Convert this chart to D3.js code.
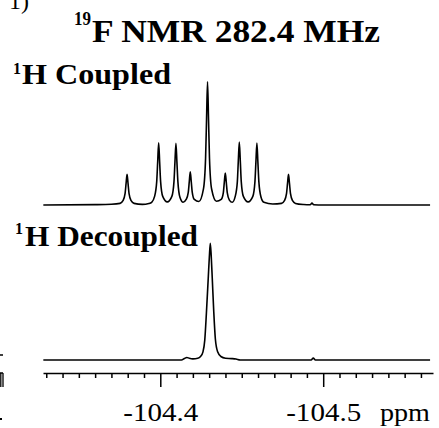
<!DOCTYPE html>
<html>
<head>
<meta charset="utf-8">
<script src="https://cdn.jsdelivr.net/npm/d3@7"></script>
<style>
  html, body { margin: 0; padding: 0; background: #fff; }
  svg { display: block; }
  text { font-family: "Liberation Serif", "Times New Roman", Times, serif; fill: #000; }
</style>
</head>
<body>
<script>
// ---- Data ----
const titleText = "F NMR 282.4 MHz";
const titleSup = "19";
const panelLabels = ["H Coupled", "H Decoupled"];
const panelSup = "1";
const unitLabel = "ppm";
const majorTicks = [-104.4, -104.5];
const majorTickLabels = ["-104.4", "-104.5"];
const minorTicks = [-104.33, -104.34, -104.35, -104.36, -104.37, -104.38, -104.39,
  -104.41, -104.42, -104.43, -104.44, -104.45, -104.46, -104.47, -104.48, -104.49,
  -104.51, -104.52, -104.53, -104.54, -104.55, -104.56];

// 1H-coupled spectrum: chemical shift (ppm) and intensity (tallest line = 100)
const coupledPpm = [
  -104.3282, -104.3600, -104.3700,
  -104.3753, -104.3771, -104.3784, -104.3790, -104.3796, -104.3802, -104.3808, -104.3821, -104.3839,
  -104.3890, -104.3930,
  -104.3947, -104.3965, -104.3978, -104.3984, -104.3990, -104.3996, -104.4002, -104.4015,
  -104.4043,
  -104.4071, -104.4084, -104.4090, -104.4096, -104.4102, -104.4108, -104.4121,
  -104.4140,
  -104.4159, -104.4172, -104.4178, -104.4184, -104.4190, -104.4196, -104.4209,
  -104.4237,
  -104.4265, -104.4278, -104.4284, -104.4290, -104.4296, -104.4302, -104.4315,
  -104.4345,
  -104.4374, -104.4387, -104.4393, -104.4399, -104.4405, -104.4411, -104.4424,
  -104.4442,
  -104.4460, -104.4473, -104.4479, -104.4485, -104.4491, -104.4497, -104.4510,
  -104.4539,
  -104.4568, -104.4581, -104.4587, -104.4593, -104.4599, -104.4605, -104.4618, -104.4636,
  -104.4690,
  -104.4744, -104.4762, -104.4775, -104.4781, -104.4787, -104.4793, -104.4799, -104.4812, -104.4830,
  -104.4880, -104.4920, -104.4931, -104.4942, -104.5000, -104.5656
];
const coupledInt = [
  0, 0.3, 0.6,
  1.3, 3.5, 9.5, 17.5, 25, 17.5, 9.5, 3.5, 1.3,
  0.5, 1.2,
  2.2, 7, 19, 35, 50.5, 35, 19, 7,
  2.5,
  7, 19, 35, 50, 35, 19, 6,
  2.2,
  4.5, 10.5, 19, 27, 19, 10.5, 4.5,
  2.8,
  13, 38, 70, 100, 70, 38, 13,
  3,
  4.5, 10, 18.5, 26, 18.5, 10, 4,
  2.2,
  7, 19, 36, 51, 36, 19, 7,
  2.5,
  7, 19, 35, 50.3, 35, 19, 6.5, 2.2,
  0.8,
  1.3, 3.5, 9.5, 17.5, 25, 17.5, 9.5, 3.5, 1.3,
  0.4, 0.2, 1.5, 0.2, 0, 0
];

// 1H-decoupled spectrum
const decoupledPpm = [
  -104.3282, -104.4130, -104.4148, -104.4163, -104.4178, -104.4200, -104.4230,
  -104.4247, -104.4262, -104.4273, -104.4283, -104.4295, -104.4301, -104.4307,
  -104.4313, -104.4319, -104.4328, -104.4338, -104.4352, -104.4372, -104.4400,
  -104.4440, -104.4465, -104.4490, -104.4926, -104.4939, -104.4952, -104.5656
];
const decoupledInt = [
  0, 0, 1.3, 2.2, 1.5, 1.0, 1.5,
  3, 7, 17, 40, 72, 88, 100,
  88, 70, 42, 18, 7, 3, 1.5,
  1.2, 0.8, 0, 0, 1.6, 0, 0
];

// ---- Chart ----
const W = 439, H = 428;
const svg = d3.select("body").append("svg").attr("width", W).attr("height", H);
const serif = '"Liberation Serif", "Times New Roman", Times, serif';

const x = d3.scaleLinear().domain([-104.328, -104.5674]).range([43, 433]);
const yCoupled = d3.scaleLinear().domain([0, 100]).range([205, 81.7]);
const yDecoupled = d3.scaleLinear().domain([0, 100]).range([360, 243.3]);

function drawSpectrum(ppm, inten, y) {
  const pts = ppm.map((p, i) => [p, inten[i]]);
  const line = d3.line().x(d => x(d[0])).y(d => y(d[1])).curve(d3.curveMonotoneX);
  svg.append("path").datum(pts)
    .attr("d", line)
    .attr("fill", "none")
    .attr("stroke", "#000")
    .attr("stroke-width", 1.6)
    .attr("stroke-linejoin", "round");
}
drawSpectrum(coupledPpm, coupledInt, yCoupled);
drawSpectrum(decoupledPpm, decoupledInt, yDecoupled);

// Axis
const axisY = 373;
const minorAxis = d3.axisBottom(x).tickValues(minorTicks).tickSize(5).tickSizeOuter(0).tickFormat("");
const gMinor = svg.append("g").attr("transform", `translate(0,${axisY})`).call(minorAxis);
gMinor.select(".domain").attr("stroke-width", 1.5);
gMinor.selectAll(".tick line").attr("stroke-width", 1.5);

const majorAxis = d3.axisBottom(x).tickValues(majorTicks).tickSize(14).tickSizeOuter(0)
  .tickFormat((d, i) => majorTickLabels[i]);
const gMajor = svg.append("g").attr("transform", `translate(0,${axisY})`).call(majorAxis);
gMajor.select(".domain").remove();
gMajor.selectAll(".tick line").attr("stroke-width", 1.5);
gMajor.selectAll(".tick text")
  .attr("y", 48).attr("dy", 0)
  .attr("font-family", serif).attr("font-size", 25).attr("fill", "#000")
  .attr("textLength", 75).attr("lengthAdjust", "spacingAndGlyphs");

svg.append("text").attr("x", 380).attr("y", 421)
  .attr("font-size", 25).attr("textLength", 50).attr("lengthAdjust", "spacingAndGlyphs")
  .text(unitLabel);

// Title
svg.append("text").attr("x", 74).attr("y", 25)
  .attr("font-size", 18).attr("font-weight", "bold")
  .attr("textLength", 17).attr("lengthAdjust", "spacingAndGlyphs")
  .text(titleSup);
svg.append("text").attr("x", 92).attr("y", 42)
  .attr("font-size", 31).attr("font-weight", "bold")
  .attr("textLength", 288).attr("lengthAdjust", "spacingAndGlyphs")
  .text(titleText);

// Panel labels
const labelPos = [
  { supX: 13, supY: 74, x: 22, y: 84, len: 149 },
  { supX: 15, supY: 234, x: 25, y: 246, len: 173 }
];
panelLabels.forEach((t, i) => {
  const p = labelPos[i];
  svg.append("text").attr("x", p.supX).attr("y", p.supY)
    .attr("font-size", 17).attr("font-weight", "bold")
    .attr("textLength", 8).attr("lengthAdjust", "spacingAndGlyphs")
    .text(panelSup);
  svg.append("text").attr("x", p.x).attr("y", p.y)
    .attr("font-size", 29).attr("font-weight", "bold")
    .attr("textLength", p.len).attr("lengthAdjust", "spacingAndGlyphs")
    .text(t);
});

// Cropped fragments of the neighbouring panel at the left edge
svg.append("text").attr("x", 9).attr("y", 9).attr("font-size", 24).text("1)");
svg.append("path").attr("d", "M0,355H3 M0,373H3 M0.8,373V387 M3,373V387")
  .attr("stroke", "#000").attr("stroke-width", 1.3).attr("fill", "none");
svg.append("rect").attr("x", 0).attr("y", 418).attr("width", 2).attr("height", 2).attr("fill", "#000");
</script>
</body>
</html>
